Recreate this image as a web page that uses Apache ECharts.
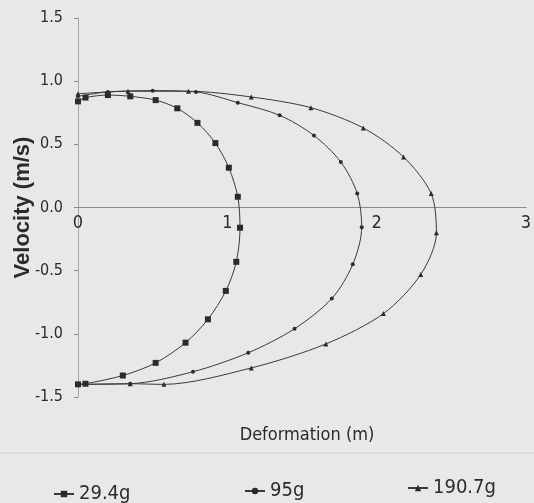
<!DOCTYPE html>
<html>
<head>
<meta charset="utf-8">
<script src="https://cdn.jsdelivr.net/npm/echarts@6/dist/echarts.min.js"></script>
<style>
html, body { margin: 0; padding: 0; background: #e8e8e6; }
#main { width: 534px; height: 503px; }
</style>
</head>
<body>
<div id="main"></div>
<script>
var seriesNames = ['29.4g', '95g', '190.7g'];

// deformation / velocity, read along each loop from impact to rebound
var def294 = [0, 0.05, 0.30, 0.52, 0.72, 0.87, 0.99, 1.06, 1.085, 1.07, 1.01, 0.92, 0.80, 0.665, 0.52, 0.35, 0.20, 0.05, 0];
var vel294 = [-1.40, -1.395, -1.33, -1.23, -1.07, -0.885, -0.66, -0.43, -0.16, 0.085, 0.315, 0.51, 0.67, 0.785, 0.85, 0.88, 0.89, 0.87, 0.84];

var def95 = [0, 0.35, 0.77, 1.14, 1.45, 1.70, 1.84, 1.90, 1.87, 1.76, 1.58, 1.35, 1.07, 0.79, 0.50, 0.20, 0];
var vel95 = [-1.40, -1.395, -1.30, -1.15, -0.96, -0.72, -0.45, -0.156, 0.11, 0.36, 0.57, 0.73, 0.83, 0.915, 0.925, 0.915, 0.88];

var def1907 = [0, 0.35, 0.575, 1.16, 1.66, 2.045, 2.295, 2.40, 2.365, 2.18, 1.91, 1.56, 1.16, 0.74, 0.335, 0];
var vel1907 = [-1.40, -1.395, -1.40, -1.27, -1.08, -0.84, -0.53, -0.20, 0.11, 0.40, 0.63, 0.79, 0.875, 0.92, 0.92, 0.90];

var xTicks = [0, 1, 2, 3];
var yTicks = [-1.5, -1.0, -0.5, 0.0, 0.5, 1.0, 1.5];

function pairs(xs, ys) {
    return xs.map(function (x, i) { return [x, ys[i]]; });
}

var narrow = "'Liberation Sans Narrow', 'DejaVu Sans Condensed', 'Liberation Sans', sans-serif";
var ink = '#2b2b2b';

var myChart = echarts.init(document.getElementById('main'));

var option = {
    backgroundColor: '#e8e8e6',
    animation: false,
    grid: { left: 78, right: 8, top: 18, bottom: 106, outerBoundsMode: 'none' },
    xAxis: {
        type: 'value',
        min: xTicks[0],
        max: xTicks[xTicks.length - 1],
        interval: 1,
        // axis sits on velocity 0, half way up the plot
        offset: -189.5,
        axisLine: { onZero: false, lineStyle: { color: '#8a8a8a', width: 1 } },
        axisTick: { show: false },
        splitLine: { show: false },
        axisLabel: { color: ink, fontSize: 18, fontFamily: narrow, margin: 7 }
    },
    yAxis: {
        type: 'value',
        min: yTicks[0],
        max: yTicks[yTicks.length - 1],
        interval: 0.5,
        name: 'Velocity (m/s)',
        nameLocation: 'middle',
        nameGap: 44,
        nameMoveOverlap: false,
        nameTextStyle: { color: ink, fontSize: 22, fontWeight: 'bold', fontFamily: "'Liberation Sans', Arial, sans-serif" },
        axisLine: { show: true, lineStyle: { color: '#a8a8a8', width: 1 } },
        axisTick: { show: true, length: 4, lineStyle: { color: '#8a8a8a' } },
        splitLine: { show: false },
        axisLabel: {
            color: ink, fontSize: 16, fontFamily: narrow, margin: 15,
            formatter: function (v) { return v.toFixed(1); }
        }
    },
    legend: [
        { data: [seriesNames[0]], left: 48, top: 479 },
        { data: [seriesNames[1]], left: 239, top: 476 },
        { data: [seriesNames[2]], left: 402, top: 473 }
    ].map(function (l) {
        l.itemWidth = 20;
        l.itemHeight = 8;
        l.itemGap = 8;
        l.textStyle = { color: ink, fontSize: 20, fontFamily: narrow };
        return l;
    }),
    graphic: [
        {
            type: 'line',
            shape: { x1: 0, y1: 453, x2: 534, y2: 453 },
            style: { stroke: '#cfcfcd', lineWidth: 1 },
            silent: true
        },
        {
            type: 'text',
            x: 307,
            y: 435,
            style: {
                text: 'Deformation (m)',
                fill: ink,
                fontSize: 18,
                fontFamily: narrow,
                textAlign: 'center',
                textVerticalAlign: 'middle'
            }
        }
    ],
    series: [
        {
            name: seriesNames[0],
            type: 'line',
            data: pairs(def294, vel294),
            smooth: 0.3,
            symbol: 'rect',
            symbolSize: 6,
            lineStyle: { color: '#3a3a3a', width: 1 },
            itemStyle: { color: ink }
        },
        {
            name: seriesNames[1],
            type: 'line',
            data: pairs(def95, vel95),
            smooth: 0.3,
            symbol: 'circle',
            symbolSize: 4,
            lineStyle: { color: '#3a3a3a', width: 1 },
            itemStyle: { color: ink }
        },
        {
            name: seriesNames[2],
            type: 'line',
            data: pairs(def1907, vel1907),
            smooth: 0.3,
            symbol: 'triangle',
            symbolSize: 5,
            lineStyle: { color: '#3a3a3a', width: 1 },
            itemStyle: { color: ink }
        }
    ]
};

myChart.setOption(option);
</script>
</body>
</html>
